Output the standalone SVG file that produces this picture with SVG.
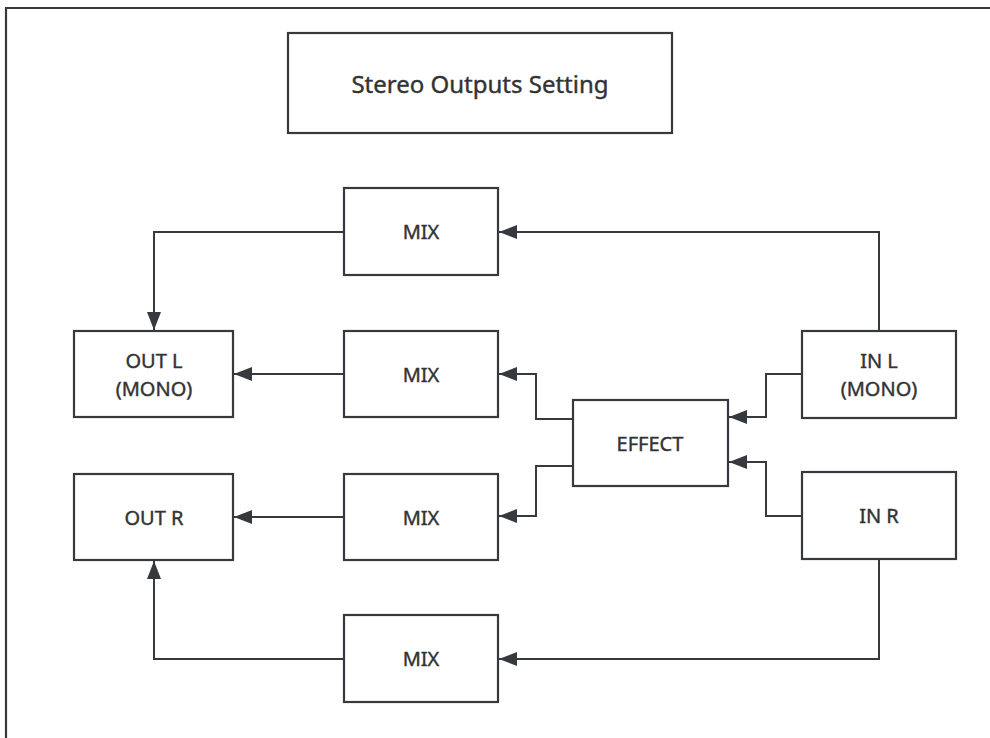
<svg xmlns="http://www.w3.org/2000/svg" width="990" height="738" viewBox="0 0 990 738">
<style>
.box{fill:#fff;stroke:#36393e;stroke-width:2.2}
.lbl{font-family:"Noto Sans","Open Sans","Liberation Sans",sans-serif;font-size:20px;fill:#333;stroke:#333;stroke-width:0.4;text-anchor:middle}
.title{font-size:24px}
.conn{fill:none;stroke:#36393e;stroke-width:2}
</style>
<defs>
<marker id="arr" markerUnits="userSpaceOnUse" markerWidth="19" markerHeight="14" refX="18" refY="7" orient="auto">
<path d="M0,0 L18,7 L0,14 z" fill="#36393e"/>
</marker>
</defs>
<rect width="990" height="738" fill="#fff"/>
<path d="M6,738 V8 H990" fill="none" stroke="#36393e" stroke-width="2.2"/>
<g id="title">
<rect class="box" x="288" y="33" width="384" height="100"/>
<text class="lbl title" x="480" y="93">Stereo Outputs Setting</text>
</g>
<g id="mix1">
<rect class="box" x="344" y="188" width="154" height="87"/>
<text class="lbl" x="421" y="239">MIX</text>
</g>
<g id="outl">
<rect class="box" x="74" y="331" width="159" height="86"/>
<text class="lbl" x="154" y="368">OUT L</text>
<text class="lbl" x="154" y="396">(MONO)</text>
</g>
<g id="mix2">
<rect class="box" x="344" y="331" width="154" height="86"/>
<text class="lbl" x="421" y="382">MIX</text>
</g>
<g id="inl">
<rect class="box" x="802" y="331" width="154" height="87"/>
<text class="lbl" x="879" y="368">IN L</text>
<text class="lbl" x="879" y="396">(MONO)</text>
</g>
<g id="effect">
<rect class="box" x="573" y="400" width="155" height="86"/>
<text class="lbl" x="650" y="451">EFFECT</text>
</g>
<g id="outr">
<rect class="box" x="74" y="474" width="159" height="86"/>
<text class="lbl" x="154" y="525">OUT R</text>
</g>
<g id="mix3">
<rect class="box" x="344" y="474" width="154" height="86"/>
<text class="lbl" x="421" y="525">MIX</text>
</g>
<g id="inr">
<rect class="box" x="802" y="472" width="154" height="87"/>
<text class="lbl" x="879" y="523">IN R</text>
</g>
<g id="mix4">
<rect class="box" x="344" y="615" width="154" height="87"/>
<text class="lbl" x="421" y="666">MIX</text>
</g>
<g id="connectors">
<path class="conn" d="M344,232 H154 V330" marker-end="url(#arr)"/>
<path class="conn" d="M879,331 V232 H499" marker-end="url(#arr)"/>
<path class="conn" d="M344,374 H234" marker-end="url(#arr)"/>
<path class="conn" d="M344,517 H234" marker-end="url(#arr)"/>
<path class="conn" d="M344,659 H154 V561" marker-end="url(#arr)"/>
<path class="conn" d="M879,559 V659 H499" marker-end="url(#arr)"/>
<path class="conn" d="M573,419 H536 V374 H499" marker-end="url(#arr)"/>
<path class="conn" d="M573,466 H536 V516 H499" marker-end="url(#arr)"/>
<path class="conn" d="M802,374 H766 V417 H729" marker-end="url(#arr)"/>
<path class="conn" d="M802,516 H766 V462 H729" marker-end="url(#arr)"/>
</g>
</svg>
